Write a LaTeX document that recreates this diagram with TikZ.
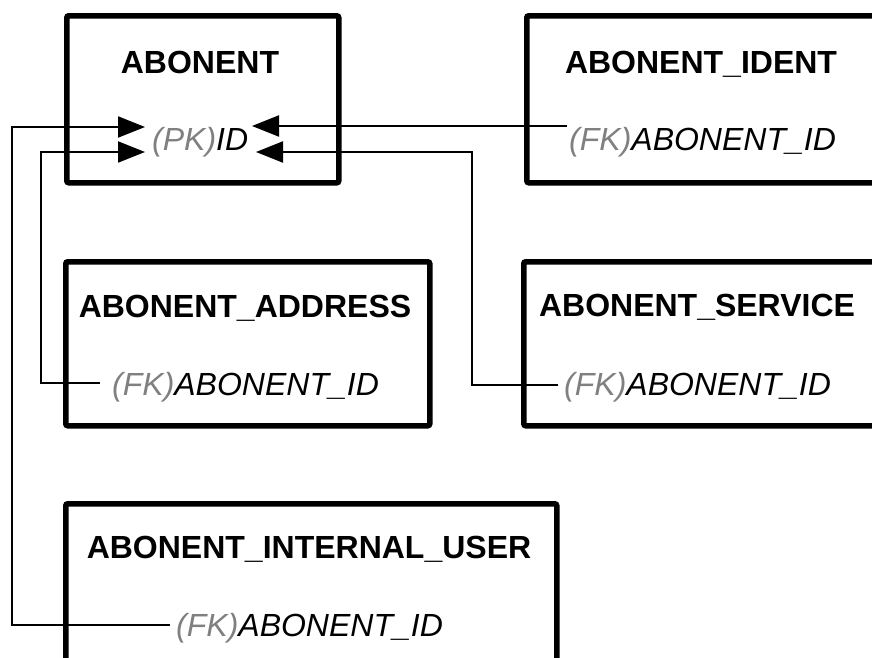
\documentclass[tikz,border=0pt]{standalone}
\usepackage{fontspec}
\setmainfont{Liberation Sans}
\usetikzlibrary{arrows.meta}
\definecolor{keygray}{HTML}{808080}
\begin{document}
\begin{tikzpicture}[x=1pt,y=-1pt,
  entity/.style={draw, line width=5.5pt, rounded corners=2pt, inner sep=0pt, anchor=north west},
  title/.style={font=\bfseries\fontsize{32}{36}\selectfont, inner sep=0pt, anchor=base},
  attr/.style={font=\itshape\fontsize{32}{36}\selectfont, inner sep=0pt, anchor=base west},
  conn/.style={line width=2pt},
  arr/.style={-{Triangle[length=27pt,width=21pt]}}]
\clip (0,0) rectangle (872,657);
% entity boxes
\node[entity, minimum width=272pt, minimum height=167pt] (abonent) at (64,13) {};
\node[entity, minimum width=400pt, minimum height=167pt] (ident) at (524,13) {};
\node[entity, minimum width=364pt, minimum height=164pt] (address) at (63,259) {};
\node[entity, minimum width=400pt, minimum height=164pt] (service) at (521,259) {};
\node[entity, minimum width=491pt, minimum height=220pt] (internal) at (63,501) {};
% titles
\node[title] (tAbonent) at (200,73) {ABONENT};
\node[title] (tIdent) at (701,73) {ABONENT\_IDENT};
\node[title] (tAddress) at (245,317) {ABONENT\_ADDRESS};
\node[title] (tService) at (697,316) {ABONENT\_SERVICE};
\node[title] (tInternal) at (309,558) {ABONENT\_INTERNAL\_USER};
% attributes
\node[attr] (pk) at (152,150) {\textcolor{keygray}{(PK)}ID};
\node[attr] (fkIdent) at (569,150) {\textcolor{keygray}{(FK)}ABONENT\_ID};
\node[attr] (fkAddress) at (112,395) {\textcolor{keygray}{(FK)}ABONENT\_ID};
\node[attr] (fkService) at (564,395) {\textcolor{keygray}{(FK)}ABONENT\_ID};
\node[attr] (fkInternal) at (176,636) {\textcolor{keygray}{(FK)}ABONENT\_ID};
% ports
\coordinate (pIdent) at (567,126);
\coordinate (pService) at (558,385);
\coordinate (pAddress) at (100,383);
\coordinate (pInternal) at (170,625);
\coordinate (pkR1) at (252,126);
\coordinate (pkR2) at (256,152);
\coordinate (pkL1) at (145,127);
\coordinate (pkL2) at (145,152);
% connectors
\draw[conn,arr] (pIdent) -- (pkR1);
\draw[conn,arr] (pService) -- (472,385) |- (pkR2);
\draw[conn,arr] (pAddress) -- (41,383) |- (pkL2);
\draw[conn,arr] (pInternal) -- (12,625) |- (pkL1);
\end{tikzpicture}
\end{document}
